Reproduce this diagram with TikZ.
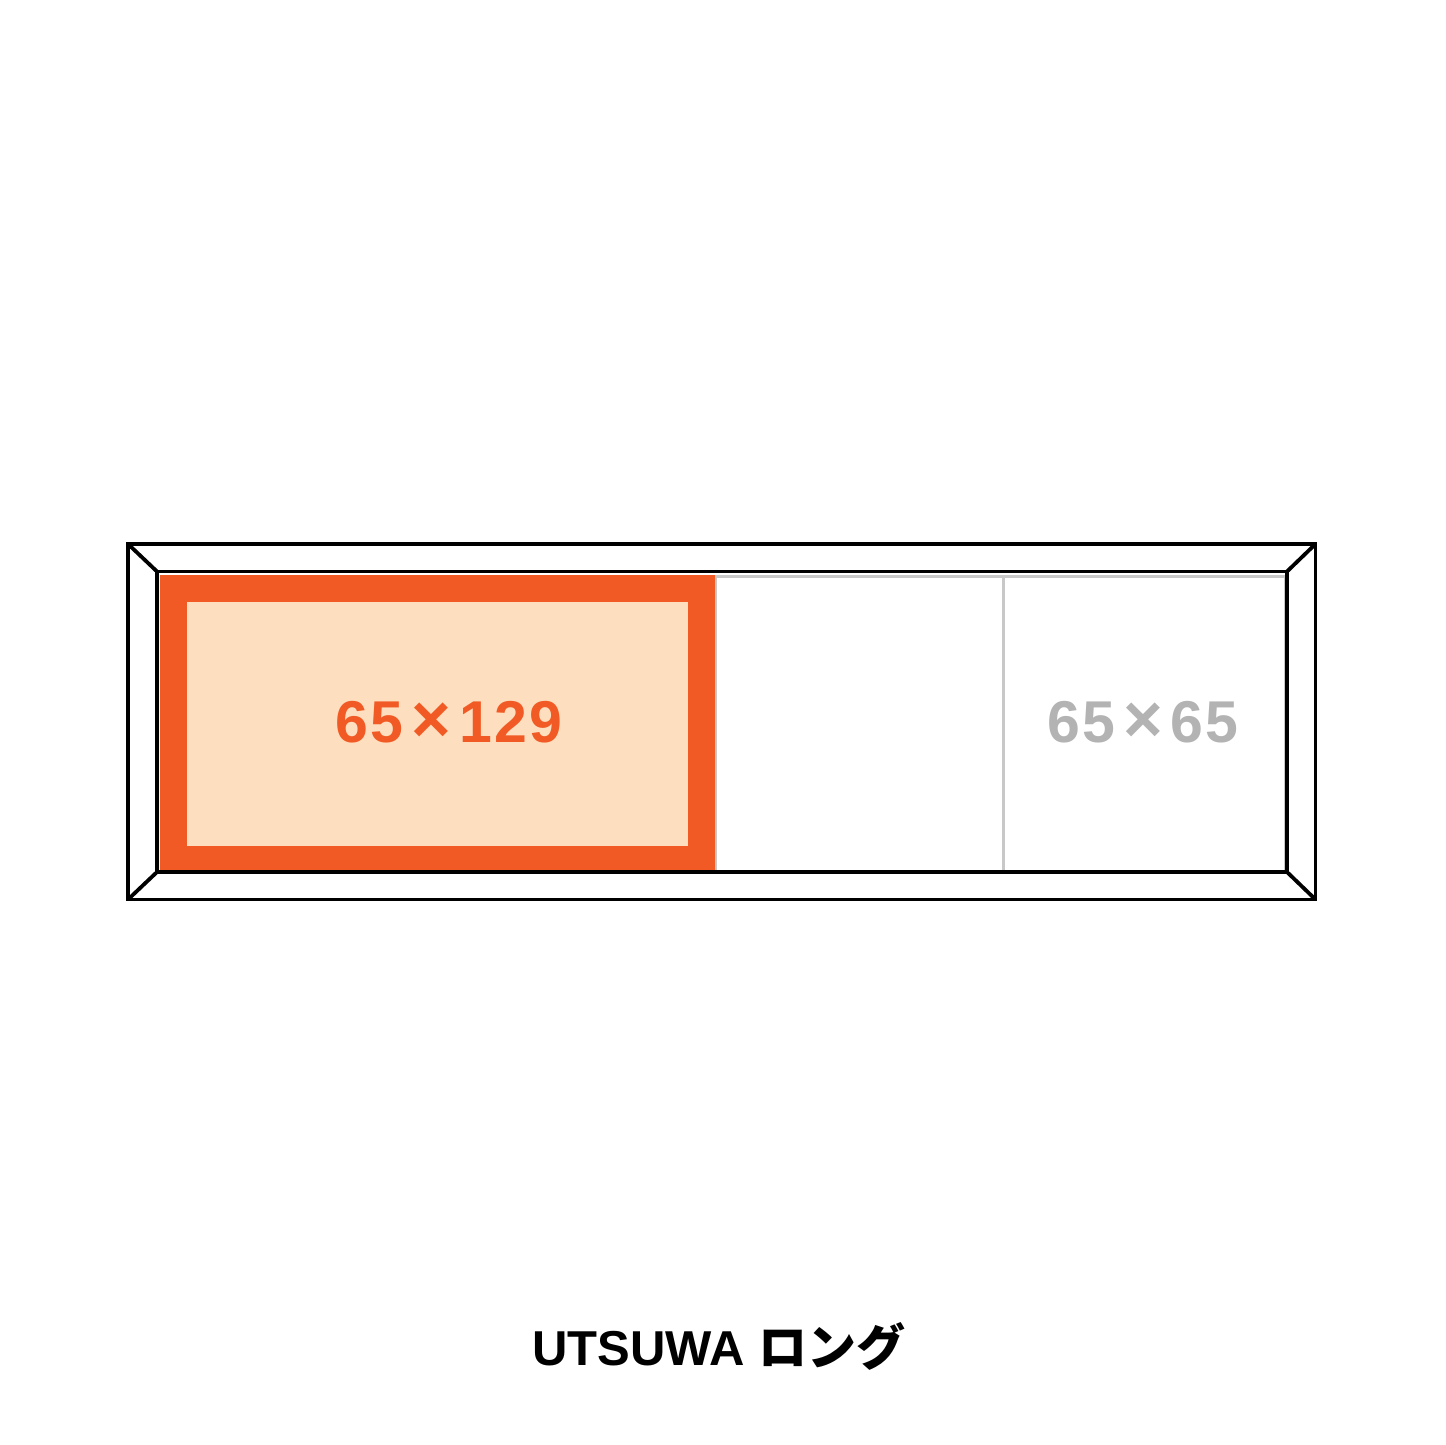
\documentclass[tikz,border=0pt]{standalone}
\usepackage{fontspec}
\setmainfont{Liberation Sans}
\newfontfamily\numfont[LetterSpace=4]{Liberation Sans}
\newfontfamily\cjk{Noto Sans CJK JP}
\definecolor{orng}{HTML}{F15A24}
\definecolor{peach}{HTML}{FDDFBF}
\definecolor{cellgray}{HTML}{C8C8C8}
\definecolor{txtgray}{HTML}{B3B3B3}
\newcommand{\bigtimes}{\hspace{8pt}{\fontsize{68}{68}\selectfont×}\hspace{8pt}}
\tikzset{
  frameline/.style={draw=black,line width=3.8pt,line join=miter},
  cellline/.style={draw=cellgray,line width=3pt},
  sizelabel/.style={font=\numfont\fontsize{59}{59}\selectfont\bfseries,inner sep=0pt},
}
\begin{document}
\begin{tikzpicture}[x=1pt,y=-1pt]
\useasboundingbox (0,0) rectangle (1445,1445);
% cells
\draw[cellline] (715,576.5) rectangle (1285.5,871);
\draw[cellline] (1003,576.5) -- (1003,871);
% orange cell
\fill[orng] (160,575) rectangle (715,872);
\fill[peach] (187,602) rectangle (688,846);
% frame
\draw[frameline] (128,544) rectangle (1315.5,899.5);
\draw[frameline] (157,571.5) rectangle (1287,872);
\draw[frameline] (128,544) -- (157,571.5);
\draw[frameline] (1315.5,544) -- (1287,571.5);
\draw[frameline] (128,899.5) -- (157,872);
\draw[frameline] (1315.5,899.5) -- (1287,872);
% labels
\node[sizelabel,text=orng,anchor=base] (big) at (449,742) {65\bigtimes129};
\node[sizelabel,text=txtgray,anchor=base] (small) at (1143,742) {65\bigtimes65};
\node[font=\fontsize{49}{49}\selectfont\bfseries,inner sep=0pt,anchor=base] (title) at (719,1365) {UTSUWA {\cjk ロング}};
\end{tikzpicture}
\end{document}
